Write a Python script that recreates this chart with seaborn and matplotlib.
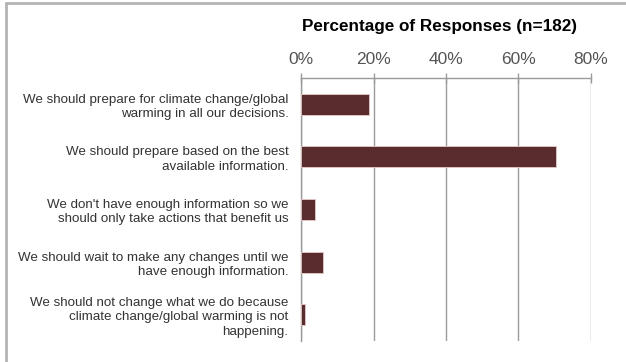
import numpy as np
import pandas as pd
import seaborn as sns
import matplotlib.pyplot as plt
from matplotlib.lines import Line2D
from matplotlib.ticker import FixedLocator, PercentFormatter

# respuestas (n=182)
respuestas = [
    "We should prepare for climate change/global\nwarming in all our decisions.",
    "We should prepare based on the best\navailable information.",
    "We don't have enough information so we\nshould only take actions that benefit us",
    "We should wait to make any changes until we\nhave enough information.",
    "We should not change what we do because\nclimate change/global warming is not\nhappening.",
]
porcentaje = [18.7, 70.3, 3.8, 6.0, 1.1]
ticks_x = [0, 20, 40, 60, 80]

df = pd.DataFrame({'resp': respuestas, 'pct': porcentaje})

sns.set_style('white')
plt.rcParams['font.family'] = ['Liberation Sans', 'DejaVu Sans']

fig = plt.figure(figsize=(6.26, 3.62), dpi=100)
ax = fig.add_axes([0.481, 0.058, 0.463, 0.727])

sns.barplot(x='pct', y='resp', data=df, orient='h', color='#632426',
            width=0.4, edgecolor='#e6c9c9', linewidth=0.6, ax=ax, zorder=3)

gris = '#9a9a9a'
ax.set_xlim(0, 80)
ax.set_ylim(4.5, -0.5)
ax.set_xticks(ticks_x)
ax.xaxis.set_major_formatter(PercentFormatter(decimals=0))
ax.xaxis.tick_top()
ax.xaxis.set_label_position('top')
ax.set_xlabel('')
ax.set_ylabel('')
ax.tick_params(axis='x', direction='inout', length=7, width=1, color=gris,
               labelsize=12.5, labelcolor='#555555', pad=4)
ax.set_yticks(range(len(respuestas)))
ax.set_yticklabels(respuestas, linespacing=1.25)
ax.tick_params(axis='y', which='major', length=0, labelsize=9.6,
               labelcolor='#333333', pad=9)
ax.yaxis.set_minor_locator(FixedLocator(np.arange(-0.5, 5, 1)))
ax.tick_params(axis='y', which='minor', direction='out', length=4, width=1, color=gris)

fig.text(440 / 626, 1 - 27 / 362, 'Percentage of Responses (n=182)', fontsize=12.3,
         fontweight='bold', color='black', ha='center', va='center')

ax.grid(axis='x', color=gris, linewidth=1, zorder=0)
ax.grid(axis='y', visible=False)
for s in ['right', 'bottom']:
    ax.spines[s].set_visible(False)
for s in ['top', 'left']:
    ax.spines[s].set_color(gris)
    ax.spines[s].set_linewidth(1)

# marco exterior
fig.lines.append(Line2D([0.01, 0.01], [0, 0.992], transform=fig.transFigure,
                        color='#b4b4b4', linewidth=2))
fig.lines.append(Line2D([0.01, 1], [0.992, 0.992], transform=fig.transFigure,
                        color='#b4b4b4', linewidth=2))

fig.savefig('out.png', dpi=100)
